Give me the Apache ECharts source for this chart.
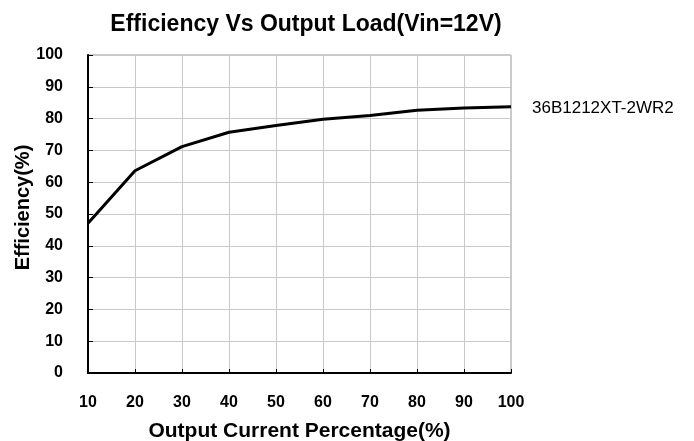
<!DOCTYPE html>
<html>
<head>
<meta charset="utf-8">
<script src="https://cdn.jsdelivr.net/npm/echarts@6/dist/echarts.min.js"></script>
<style>html,body{margin:0;padding:0;background:#fff}#c{width:694px;height:441px}</style>
</head>
<body>
<div id="c"></div>
<script>
var loadPct = [10, 20, 30, 40, 50, 60, 70, 80, 90, 100];
var efficiency = [47.1, 63.6, 71.2, 75.7, 77.8, 79.8, 81.0, 82.6, 83.3, 83.7];
var seriesName = '36B1212XT-2WR2';
var titleText = 'Efficiency Vs Output Load(Vin=12V)';
var xName = 'Output Current Percentage(%)';
var yName = 'Efficiency(%)';

var chart = echarts.init(document.getElementById('c'));
var font = 'Liberation Sans, Arial, sans-serif';
chart.setOption({
  animation: false,
  backgroundColor: '#fff',
  title: {
    text: titleText, left: 306, top: 13, textAlign: 'center', padding: 0,
    textStyle: {fontFamily: font, fontSize: 23, fontWeight: 'bold', color: '#000'}
  },
  legend: {
    data: [{name: seriesName, icon: 'none'}],
    left: 522, top: 95, itemWidth: 0, itemGap: 0,
    textStyle: {fontFamily: font, fontSize: 17, color: '#000'}
  },
  grid: {left: 88, right: 183, top: 55, bottom: 68, show: true, borderColor: '#999', borderWidth: 1,
    containLabel: false, outerBoundsMode: 'none'},
  xAxis: {
    type: 'value', min: 10, max: 100, interval: 10,
    name: xName, nameLocation: 'middle', nameGap: 48, nameMoveOverlap: false,
    nameTextStyle: {fontFamily: font, fontSize: 21, fontWeight: 'bold', color: '#000'},
    axisLine: {lineStyle: {color: '#000', width: 2}},
    axisTick: {inside: true, length: 4, lineStyle: {color: '#000'}},
    axisLabel: {fontFamily: font, fontSize: 16, fontWeight: 'bold', color: '#000', margin: 22},
    splitLine: {show: true, lineStyle: {color: '#c8c8c8', width: 1}}
  },
  yAxis: {
    type: 'value', min: 0, max: 100, interval: 10,
    name: yName, nameLocation: 'middle', nameGap: 55, nameRotate: 90, nameMoveOverlap: false,
    nameTextStyle: {fontFamily: font, fontSize: 20, fontWeight: 'bold', color: '#000', padding: [0, 0, 0, 13]},
    axisLine: {show: true, lineStyle: {color: '#000', width: 2}},
    axisTick: {show: true, inside: true, length: 5, lineStyle: {color: '#000'}},
    axisLabel: {fontFamily: font, fontSize: 16, fontWeight: 'bold', color: '#000', margin: 25},
    splitLine: {show: true, lineStyle: {color: '#c8c8c8', width: 1}}
  },
  series: [{
    name: seriesName, type: 'line',
    data: loadPct.map(function (x, i) { return [x, efficiency[i]]; }),
    symbol: 'none', lineStyle: {color: '#000', width: 3},
    itemStyle: {color: '#000'}
  }]
});
</script>
</body>
</html>
